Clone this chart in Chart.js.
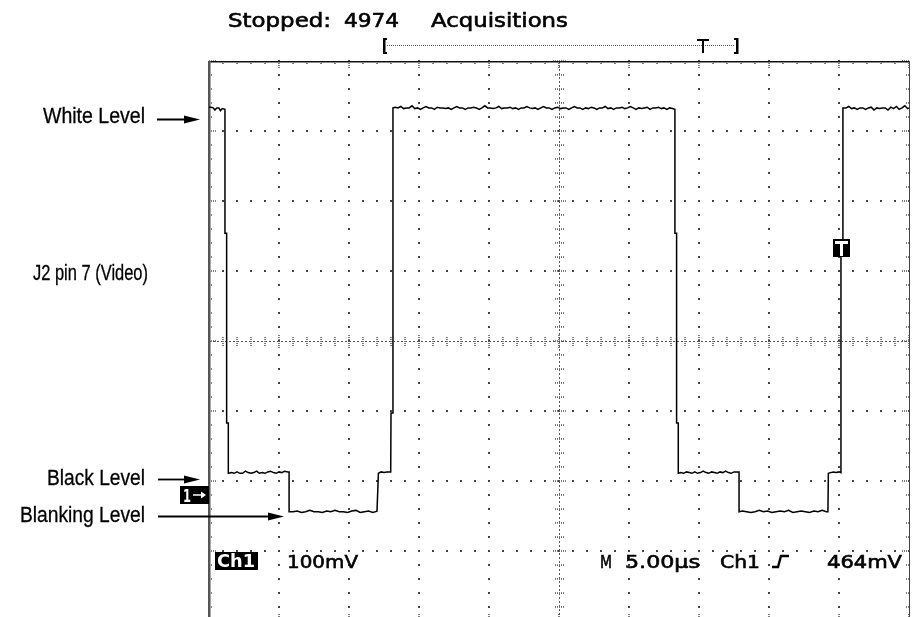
<!DOCTYPE html>
<html><head><meta charset="utf-8">
<script src="https://cdn.jsdelivr.net/npm/chart.js@4.4.0/dist/chart.umd.min.js"></script>
<style>
html,body{margin:0;padding:0;background:#fff;overflow:hidden}
#wrap{width:912px;height:617px;overflow:hidden;position:relative}
canvas{display:block}
</style></head>
<body><div id="wrap"><canvas id="c" width="912" height="640"></canvas></div>
<script>
// ---- data (time in microseconds, Ch1 in mV relative to screen centre) ----
const white1 = [[0,334],[0.14,334],[0.3,333],[0.42,330],[0.55,333],[0.7,333],[0.82,329],[0.95,332],[1.14,331]];
const fall1 = [[1.14,154],[1.26,154],[1.26,-117],[1.38,-117],[1.38,-189]];
const black1 = [[1.6,-188],[1.8,-189],[2.0,-187],[2.2,-189],[2.4,-189],[2.6,-186],[2.8,-188],[3.0,-189],[3.2,-188],[3.4,-186],[3.6,-189],[3.8,-188],[4.0,-189],[4.2,-187],[4.4,-186],[4.6,-188],[4.8,-189],[5.0,-187],[5.2,-188],[5.4,-186],[5.64,-187],[5.72,-187]];
const blank1 = [[5.72,-244],[6.0,-244],[6.3,-243],[6.6,-245],[6.9,-244],[7.2,-242],[7.5,-244],[7.8,-244],[8.1,-245],[8.4,-243],[8.7,-244],[9.0,-242],[9.3,-244],[9.6,-244],[9.9,-245],[10.2,-243],[10.5,-242],[10.8,-245],[11.1,-244],[11.4,-243],[11.7,-245],[12.0,-243],[12.07,-243]];
const black2 = [[12.1,-189],[12.3,-187],[12.5,-188],[12.7,-187],[12.98,-187]];
const rise1 = [[13.0,-103],[13.14,-103],[13.14,333]];
const white2 = [[13.3,334],[13.5,333],[13.7,335],[13.9,332],[14.1,333],[14.3,333],[14.5,336],[14.7,332],[14.9,333],[15.1,331],[15.3,333],[15.5,335],[15.7,333],[15.9,333],[16.1,331],[16.3,334],[16.5,333],[16.7,333],[16.9,332],[17.1,333],[17.3,331],[17.5,333],[17.7,335],[17.9,333],[18.1,333],[18.3,331],[18.5,333],[18.7,333],[18.9,334],[19.1,333],[19.3,331],[19.5,333],[19.7,336],[19.9,333],[20.1,333],[20.3,332],[20.5,333],[20.7,335],[20.9,332],[21.1,333],[21.3,333],[21.5,334],[21.7,332],[21.9,333],[22.1,331],[22.3,333],[22.5,333],[22.7,335],[22.9,333],[23.1,332],[23.3,333],[23.5,331],[23.7,333],[23.9,335],[24.1,333],[24.3,333],[24.5,331],[24.7,333],[24.9,334],[25.1,332],[25.3,333],[25.5,333],[25.7,331],[25.9,333],[26.1,335],[26.3,333],[26.5,333],[26.7,331],[26.9,333],[27.1,332],[27.3,334],[27.5,333],[27.7,331],[27.9,333],[28.1,333],[28.3,335],[28.5,332],[28.7,333],[28.9,331],[29.1,333],[29.3,333],[29.5,334],[29.7,332],[29.9,333],[30.1,335],[30.3,333],[30.5,331],[30.7,333],[30.9,332],[31.1,333],[31.3,334],[31.5,331],[31.7,333],[31.9,333],[32.1,334],[32.3,332],[32.5,333],[32.7,331],[32.9,333],[33.1,332],[33.28,331]];
const fall2 = [[33.28,154],[33.40,154],[33.40,-117],[33.52,-117],[33.52,-189]];
const black3 = [[33.7,-188],[33.9,-189],[34.1,-187],[34.3,-188],[34.5,-189],[34.7,-187],[34.9,-189],[35.1,-188],[35.3,-186],[35.5,-188],[35.7,-189],[35.9,-187],[36.1,-188],[36.3,-189],[36.5,-187],[36.7,-188],[36.9,-186],[37.1,-188],[37.3,-189],[37.5,-187],[37.78,-187],[37.86,-187]];
const blank2 = [[37.86,-244],[38.1,-243],[38.4,-244],[38.7,-245],[39.0,-244],[39.3,-242],[39.6,-244],[39.9,-243],[40.2,-245],[40.5,-244],[40.8,-243],[41.1,-244],[41.4,-242],[41.7,-245],[42.0,-244],[42.3,-243],[42.6,-244],[42.9,-245],[43.2,-243],[43.5,-244],[43.8,-242],[44.1,-244],[44.21,-244]];
const black4 = [[44.24,-189],[44.4,-188],[44.6,-187],[44.8,-188],[45.0,-187],[45.14,-188]];
const rise2 = [[45.14,133],[45.28,133],[45.28,333]];
const white3 = [[45.5,333],[45.7,335],[45.9,332],[46.1,333],[46.3,331],[46.5,333],[46.7,333],[46.9,331],[47.1,333],[47.3,334],[47.5,330],[47.7,333],[47.9,332],[48.1,333],[48.3,333],[48.5,330],[48.7,334],[48.9,332],[49.1,335],[49.3,331],[49.5,333],[49.7,336],[49.9,332],[50,333]];

// graticule (divisions: 5 us/div, 100 mV/div)
const xMajor = [0,5,10,15,20,25,30,35,40,45,50];
const yMajor = [-400,-300,-200,-100,0,100,200,300,400];
const xMinor = [0,1,2,3,4,5,6,7,8,9,10,11,12,13,14,15,16,17,18,19,20,21,22,23,24,25,26,27,28,29,30,31,32,33,34,35,36,37,38,39,40,41,42,43,44,45,46,47,48,49,50];
const yMinor = [-400,-380,-360,-340,-320,-300,-280,-260,-240,-220,-200,-180,-160,-140,-120,-100,-80,-60,-40,-20,0,20,40,60,80,100,120,140,160,180,200,220,240,260,280,300,320,340,360,380,400];

// readouts / labels
const acqText = ['Stopped:', '4974', 'Acquisitions'];
const chLabel = 'Ch1';
const voltsDiv = '100mV';
const timeDiv = '5.00\u00b5s';
const trigSrc = 'Ch1';
const trigLevelText = '464mV';
const trigTime = 45.14, trigLevel = 133;
const annotations = ['White Level', 'J2 pin 7 (Video)', 'Black Level', 'Blanking Level'];

const trace = [].concat(white1, fall1, black1, blank1, black2, rise1, white2, fall2, black3, blank2, black4, rise2, white3)
  .map(p => ({x: p[0], y: p[1]}));

function fitText(ctx, text, x, y, w, font, color, stroke) {
  ctx.save();
  ctx.font = font;
  ctx.fillStyle = color || '#000';
  ctx.textBaseline = 'alphabetic';
  ctx.textAlign = 'left';
  const m = ctx.measureText(text).width;
  ctx.translate(x, y);
  ctx.scale(w / m, 1);
  ctx.fillText(text, 0, 0);
  if (stroke) { ctx.strokeStyle = color || '#000'; ctx.lineWidth = stroke; ctx.strokeText(text, 0, 0); }
  ctx.restore();
}
function arrow(ctx, x1, x2, y) {
  ctx.save();
  ctx.strokeStyle = '#000'; ctx.fillStyle = '#000'; ctx.lineWidth = 1.8;
  ctx.beginPath(); ctx.moveTo(x1, y); ctx.lineTo(x2 - 10, y); ctx.stroke();
  ctx.beginPath(); ctx.moveTo(x2, y); ctx.lineTo(x2 - 16, y - 4); ctx.lineTo(x2 - 16, y + 4); ctx.closePath(); ctx.fill();
  ctx.restore();
}

const graticule = {
  id: 'graticule',
  beforeDatasetsDraw(chart) {
    const {ctx, chartArea: a, scales: {x, y}} = chart;
    const X = v => Math.round(x.getPixelForValue(v));
    const Y = v => Math.round(y.getPixelForValue(v));
    const cx = X(25), cy = Y(0);
    ctx.save();
    ctx.fillStyle = '#444';
    for (const xv of xMajor) {
      if (xv === 0 || xv === 50 || xv === 25) continue;
      for (const yv of yMinor) ctx.fillRect(X(xv) - 1, Y(yv) - 1, 2, 2);
    }
    for (const yv of yMajor) {
      if (yv === -400 || yv === 400 || yv === 0) continue;
      for (const xv of xMinor) ctx.fillRect(X(xv) - 1, Y(yv) - 1, 2, 2);
    }
    // centre lines
    ctx.strokeStyle = '#555'; ctx.lineWidth = 1;
    ctx.setLineDash([2, 2]);
    ctx.beginPath();
    ctx.moveTo(a.left, cy + 0.5); ctx.lineTo(a.right, cy + 0.5);
    ctx.moveTo(cx + 0.5, a.top); ctx.lineTo(cx + 0.5, a.bottom);
    ctx.stroke();
    ctx.setLineDash([1, 1]);
    ctx.lineWidth = 1.5;
    ctx.beginPath();
    for (const xv of xMinor) {
      const h = xMajor.includes(xv) ? 6 : 4;
      ctx.moveTo(X(xv), cy - h); ctx.lineTo(X(xv), cy + h + 1);
    }
    for (const yv of yMinor) {
      const h = yMajor.includes(yv) ? 6 : 4;
      ctx.moveTo(cx - h, Y(yv)); ctx.lineTo(cx + h + 1, Y(yv));
    }
    // border ticks
    for (const xv of xMinor) {
      const h = xMajor.includes(xv) ? 8 : 4;
      ctx.moveTo(X(xv), a.top); ctx.lineTo(X(xv), a.top + h);
      ctx.moveTo(X(xv), a.bottom); ctx.lineTo(X(xv), a.bottom - h);
    }
    for (const yv of yMinor) {
      const h = yMajor.includes(yv) ? 8 : 4;
      ctx.moveTo(a.left, Y(yv)); ctx.lineTo(a.left + h, Y(yv));
      ctx.moveTo(a.right, Y(yv)); ctx.lineTo(a.right - h, Y(yv));
    }
    ctx.stroke();
    ctx.setLineDash([]);
    // frame
    ctx.fillStyle = '#111';
    ctx.fillRect(a.left, a.top, a.right - a.left + 1, 1.5);
    ctx.fillStyle = '#555';
    ctx.fillRect(a.left - 1, a.top, 2.5, a.bottom - a.top);
    ctx.fillStyle = '#444';
    ctx.fillRect(a.right, a.top, 1, a.bottom - a.top);
    ctx.restore();
  },
  afterDatasetsDraw(chart) {
    const {ctx, chartArea: a, scales: {x, y}} = chart;
    ctx.save();
    const sf = '"DejaVu Sans", "Liberation Sans", sans-serif';
    const af = '"Liberation Sans", Arial, sans-serif';
    // top status
    fitText(ctx, acqText[0], 228, 27, 103, '19px ' + sf, '#000', 0.6);
    fitText(ctx, acqText[1], 344, 27, 55, '19px ' + sf, '#000', 0.6);
    fitText(ctx, acqText[2], 431, 27, 137, '19px ' + sf, '#000', 0.6);
    // record bracket
    ctx.fillStyle = '#000';
    ctx.fillRect(383, 38, 2.5, 16); ctx.fillRect(383, 38, 4, 2); ctx.fillRect(383, 52, 4, 2);
    ctx.fillRect(736, 38, 2.5, 16); ctx.fillRect(734, 38, 4, 2); ctx.fillRect(734, 52, 4, 2);
    ctx.strokeStyle = '#555'; ctx.lineWidth = 1; ctx.setLineDash([1, 1]);
    ctx.beginPath(); ctx.moveTo(387, 45.5); ctx.lineTo(734, 45.5); ctx.stroke();
    ctx.setLineDash([]);
    ctx.fillRect(697, 39, 12, 2); ctx.fillRect(702, 39, 2, 14);
    // annotations
    fitText(ctx, annotations[0], 43, 123, 102, '22px ' + af, '#000', 0.3);
    fitText(ctx, annotations[1], 33, 280, 115, '22px ' + af, '#000', 0.3);
    fitText(ctx, annotations[2], 47, 485, 98, '22px ' + af, '#000', 0.3);
    fitText(ctx, annotations[3], 20, 522, 125, '22px ' + af, '#000', 0.3);
    arrow(ctx, 157, 200, 119.5);
    arrow(ctx, 158, 200, 479.5);
    arrow(ctx, 158, 284, 516.5);
    // ground marker "1->"
    ctx.fillStyle = '#000';
    ctx.fillRect(180, 486, 29, 18);
    fitText(ctx, '1', 183, 502, 8, 'bold 17px ' + sf, '#fff');
    ctx.strokeStyle = '#fff'; ctx.fillStyle = '#fff'; ctx.lineWidth = 1.5;
    ctx.beginPath(); ctx.moveTo(193, 495); ctx.lineTo(203, 495); ctx.stroke();
    ctx.beginPath(); ctx.moveTo(206, 495); ctx.lineTo(201, 491.5); ctx.lineTo(201, 498.5); ctx.closePath(); ctx.fill();
    // trigger marker
    const tx = Math.round(x.getPixelForValue(trigTime)), ty = Math.round(y.getPixelForValue(trigLevel));
    ctx.fillStyle = '#000';
    ctx.fillRect(tx - 8, ty - 9, 17, 18);
    ctx.fillStyle = '#fff';
    ctx.fillRect(tx - 6, ty - 7, 13, 3);
    ctx.fillRect(tx - 1, ty - 6, 3, 14);
    // bottom readouts
    ctx.fillStyle = '#000';
    ctx.fillRect(215, 552, 43, 18);
    fitText(ctx, chLabel, 217, 567, 38, 'bold 17px ' + sf, '#fff');
    fitText(ctx, voltsDiv, 287, 568, 71, '18px ' + sf, '#000', 0.6);
    fitText(ctx, 'M', 600, 568, 12, '18px ' + sf, '#000', 0.6);
    fitText(ctx, timeDiv, 625, 568, 75, '18px ' + sf, '#000', 0.6);
    fitText(ctx, trigSrc, 720, 568, 40, '18px ' + sf, '#000', 0.6);
    ctx.strokeStyle = '#000'; ctx.lineWidth = 2.4;
    ctx.beginPath(); ctx.moveTo(772, 567); ctx.lineTo(778, 567); ctx.lineTo(781, 556); ctx.lineTo(789, 556); ctx.stroke();
    fitText(ctx, trigLevelText, 827, 568, 75, '18px ' + sf, '#000', 0.6);
    ctx.restore();
  }
};

new Chart(document.getElementById('c'), {
  type: 'line',
  data: { datasets: [{ data: trace, borderColor: '#000', borderWidth: 1.5, pointRadius: 0, tension: 0, fill: false }] },
  options: {
    responsive: false, animation: false, devicePixelRatio: 1,
    layout: { padding: { left: 209, right: 3, top: 61, bottom: 19 } },
    scales: {
      x: { type: 'linear', min: 0, max: 50, display: false },
      y: { type: 'linear', min: -400, max: 400, display: false }
    },
    plugins: { legend: { display: false }, tooltip: { enabled: false } }
  },
  plugins: [graticule]
});
</script>
</body></html>
